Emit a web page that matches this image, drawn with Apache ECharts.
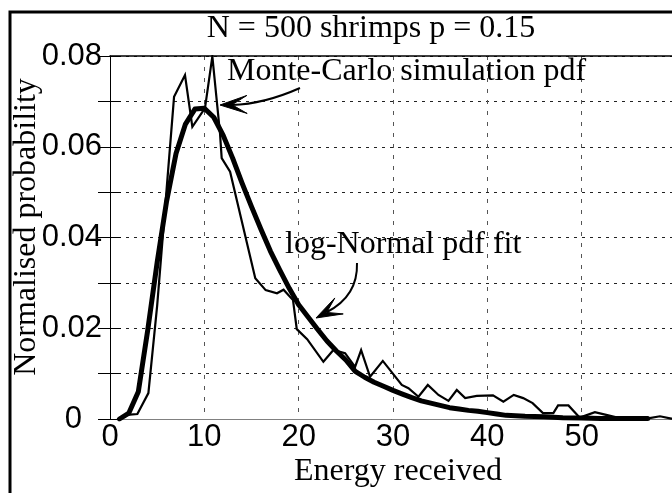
<!DOCTYPE html>
<html>
<head>
<meta charset="utf-8">
<script src="https://cdn.jsdelivr.net/npm/echarts@6/dist/echarts.min.js"></script>
<style>
html,body{margin:0;padding:0;background:#fff;}
#c{width:672px;height:493px;}
</style>
</head>
<body>
<div id="c"></div>
<script>
// ---- data ----
const mcX = [1.0, 1.8, 2.9, 4.07, 5.0, 6.0, 6.79, 7.95, 8.73, 10.07, 10.85, 11.66, 11.84, 12.73, 15.4, 16.5, 17.7, 18.4, 19.4, 19.8, 20.9, 22.62, 23.68, 24.92, 25.98, 26.62, 27.57, 28.92, 30.93, 31.64, 32.7, 33.69, 34.82, 35.88, 36.76, 37.65, 38.88, 40.6, 41.7, 42.8, 43.8, 44.8, 45.9, 47.0, 47.5, 48.6, 49.8, 51.4, 52.6, 53.8, 57.2, 58.3, 59.5, 60.0];
const mcY = [0.0, 0.0009, 0.0011, 0.0057, 0.025, 0.0506, 0.071, 0.0758, 0.0644, 0.0685, 0.0799, 0.063, 0.0575, 0.0545, 0.031, 0.0284, 0.0277, 0.0285, 0.0262, 0.0198, 0.0176, 0.0126, 0.0152, 0.0145, 0.0115, 0.0152, 0.0093, 0.0128, 0.0075, 0.0068, 0.0049, 0.0075, 0.0053, 0.0040, 0.0064, 0.0046, 0.0051, 0.0052, 0.0038, 0.0053, 0.0046, 0.0035, 0.0013, 0.0013, 0.0030, 0.0030, 0.0003, 0.0015, 0.0009, 0.0003, 0.0002, 0.0006, 0.0001, 0.0];
const fitX = [1, 2, 3, 4, 5, 6, 7, 8, 9, 10, 11, 12, 13, 14, 15, 16, 17, 18, 19, 20, 21, 22, 23, 24, 25, 26, 27, 28, 29, 30, 31, 32, 33, 34, 35, 36, 37, 38, 39, 40, 41, 42, 44, 46, 48, 50, 52, 54, 56, 57];
const fitY = [0.0, 0.0013, 0.006, 0.0196, 0.0345, 0.048, 0.0585, 0.065, 0.0683, 0.0685, 0.0665, 0.0625, 0.0575, 0.052, 0.0468, 0.0418, 0.037, 0.0328, 0.0288, 0.0252, 0.0225, 0.0198, 0.0172, 0.015, 0.013, 0.0105, 0.0092, 0.0081, 0.0072, 0.0063, 0.0055, 0.0047, 0.0040, 0.0035, 0.0030, 0.0025, 0.0022, 0.0019, 0.0017, 0.0014, 0.0011, 0.0008, 0.0006, 0.0005, 0.0003, 0.0002, 0.0001, 0.0001, 0.0001, 0.0001];
const xTickValues = [0, 10, 20, 30, 40, 50];
const xTickLabels = ['0', '10', '20', '30', '40', '50'];
const yTickValues = [0, 0.02, 0.04, 0.06, 0.08];
const yTickLabels = ['0', '0.02', '0.04', '0.06', '0.08'];
const titleText = 'N = 500 shrimps p = 0.15';
const xName = 'Energy received';
const yName = 'Normalised probability';
const mcLabel = 'Monte-Carlo simulation pdf';
const fitLabel = 'log-Normal pdf fit';

const mcData = mcX.map((x, i) => [x, mcY[i]]);
const fitData = fitX.map((x, i) => [x, fitY[i]]);

const SERIF = 'Liberation Serif, Times New Roman, serif';
const SANS = 'Liberation Sans, Arial, Helvetica, sans-serif';

function arrowHead(tip, dir, len, half, notch) {
  const n = Math.hypot(dir[0], dir[1]);
  const ux = dir[0] / n, uy = dir[1] / n;
  const px = -uy, py = ux;
  const bx = tip[0] - ux * len, by = tip[1] - uy * len;
  const nx = tip[0] - ux * notch, ny = tip[1] - uy * notch;
  return [tip, [bx + px * half, by + py * half], [nx, ny], [bx - px * half, by - py * half]];
}

const chart = echarts.init(document.getElementById('c'), null, {renderer: 'canvas'});
const option = {
  animation: false,
  backgroundColor: '#fff',
  title: {
    text: titleText, left: 371, top: 13, textAlign: 'center', padding: 0,
    textStyle: {fontFamily: SERIF, fontSize: 32, fontWeight: 'normal', color: '#000'}
  },
  grid: {left: 110, right: -4, top: 56, bottom: 74, containLabel: false, outerBoundsMode: 'none'},
  xAxis: [{
    type: 'value', min: 0, max: 60, interval: 10, position: 'bottom',
    axisLine: {show: true, onZero: false, lineStyle: {color: '#808080', width: 1}},
    axisTick: {show: false},
    axisLabel: {
      margin: 3, color: '#000', fontFamily: SANS, fontSize: 31,
      formatter: v => { const i = xTickValues.indexOf(v); return i >= 0 ? xTickLabels[i] : ''; }
    },
    splitLine: {show: true, lineStyle: {type: [4, 7], color: '#555', width: 1}},
    name: xName, nameLocation: 'middle', nameGap: 37, nameMoveOverlap: false,
    nameTextStyle: {fontFamily: SERIF, fontSize: 32, color: '#000', padding: [0, 0, 0, 10]}
  }, {
    type: 'value', min: 0, max: 60, interval: 10, position: 'top',
    axisLine: {show: true, onZero: false, lineStyle: {color: '#000', width: 1.5}},
    axisTick: {show: false}, axisLabel: {show: false}, splitLine: {show: false}
  }],
  yAxis: [{
    type: 'value', min: 0, max: 0.08, interval: 0.01, position: 'left',
    axisLine: {show: true, lineStyle: {color: '#808080', width: 1}},
    axisTick: {show: true, inside: true, length: 11, lineStyle: {color: '#000', width: 1}},
    axisLabel: {
      margin: 8, color: '#000', fontFamily: SANS, fontSize: 31,
      formatter: v => {
        for (let i = 0; i < yTickValues.length; i++) {
          if (Math.abs(v - yTickValues[i]) < 1e-9) return i === 0 ? '{z|' + yTickLabels[i] + '}' : yTickLabels[i];
        }
        return '';
      },
      rich: {z: {fontFamily: SANS, fontSize: 31, color: '#000', padding: [0, 20, 0, 0]}}
    },
    splitLine: {show: true, lineStyle: {type: [3, 5], color: '#222', width: 1.2}},
    name: yName, nameLocation: 'middle', nameGap: 67, nameMoveOverlap: false,
    nameTextStyle: {fontFamily: SERIF, fontSize: 32, color: '#000', padding: [0, 0, 0, 21]}
  }, {
    type: 'value', min: 0, max: 0.08, interval: 0.01, position: 'right',
    axisLine: {show: true, lineStyle: {color: '#000', width: 1}},
    axisTick: {show: true, inside: true, length: 12, lineStyle: {color: '#000', width: 1}},
    axisLabel: {show: false}, splitLine: {show: false}
  }],
  series: [{
    name: fitLabel, type: 'line', data: fitData, xAxisIndex: 0, yAxisIndex: 0,
    showSymbol: false, lineStyle: {color: '#000', width: 5, join: 'round', cap: 'round'}, z: 3
  }, {
    name: mcLabel, type: 'line', data: mcData, xAxisIndex: 0, yAxisIndex: 0,
    showSymbol: false, lineStyle: {color: '#000', width: 2.2, join: 'miter'}, z: 4
  }],
  graphic: [
    {type: 'rect', z: 100, shape: {x: 10, y: 12, width: 720, height: 540},
     style: {fill: null, stroke: '#000', lineWidth: 3}},
    {type: 'text', z: 100, style: {text: mcLabel, x: 227, y: 71.2, fontFamily: SERIF, fontSize: 32, fill: '#000', align: 'left', verticalAlign: 'middle'}},
    {type: 'text', z: 100, style: {text: fitLabel, x: 285, y: 244.2, fontFamily: SERIF, fontSize: 32, fill: '#000', align: 'left', verticalAlign: 'middle'}},
    {type: 'bezierCurve', z: 100, shape: {x1: 300, y1: 88, cpx1: 264, cpy1: 104, x2: 232, y2: 105},
     style: {stroke: '#000', lineWidth: 2, fill: null}},
    {type: 'polygon', z: 100, shape: {points: arrowHead([220, 105], [-1, 0.02], 27, 9, 12)},
     style: {fill: '#000', stroke: '#000', lineWidth: 1}},
    {type: 'bezierCurve', z: 100, shape: {x1: 357, y1: 263, cpx1: 358, cpy1: 296, x2: 327, y2: 312},
     style: {stroke: '#000', lineWidth: 2, fill: null}},
    {type: 'polygon', z: 100, shape: {points: arrowHead([316, 318], [-42, 22], 26, 9, 12)},
     style: {fill: '#000', stroke: '#000', lineWidth: 1}}
  ]
};
chart.setOption(option);
</script>
</body>
</html>
